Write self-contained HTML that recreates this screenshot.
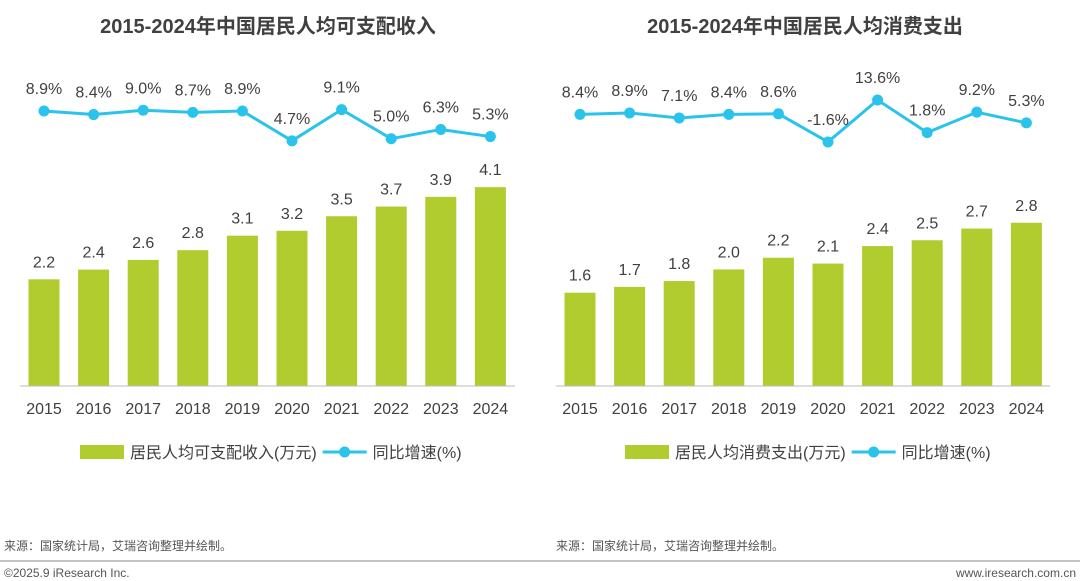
<!DOCTYPE html>
<html><head><meta charset="utf-8">
<style>
body{margin:0;width:1080px;height:581px;background:#fff;overflow:hidden;font-family:"Liberation Sans","Noto Sans CJK SC",sans-serif}
svg{position:absolute;left:0;top:0}
</style></head>
<body>
<svg id="s" width="1080" height="581">
<text x="268" y="33" text-anchor="middle" font-size="20" font-weight="bold" fill="#404040">2015-2024年中国居民人均可支配收入</text>
<text x="805" y="33" text-anchor="middle" font-size="20" font-weight="bold" fill="#404040">2015-2024年中国居民人均消费支出</text>
<text x="4" y="550" font-size="12" fill="#555">来源：国家统计局，艾瑞咨询整理并绘制。</text>
<text x="556" y="550" font-size="12" fill="#555">来源：国家统计局，艾瑞咨询整理并绘制。</text>
<line x1="0" y1="561" x2="1080" y2="561" stroke="#888" stroke-width="1"/>
<text x="4" y="577" font-size="12" fill="#555">©2025.9 iResearch Inc.</text>
<text x="1076" y="577" text-anchor="end" font-size="12" fill="#555">www.iresearch.com.cn</text>
</svg>
<script>
const years=["2015","2016","2017","2018","2019","2020","2021","2022","2023","2024"];
const incomeVals=[2.2,2.4,2.6,2.8,3.1,3.2,3.5,3.7,3.9,4.1];
const incomeGrowth=[8.9,8.4,9.0,8.7,8.9,4.7,9.1,5.0,6.3,5.3];
const spendVals=[1.6,1.7,1.8,2.0,2.2,2.1,2.4,2.5,2.7,2.8];
const spendGrowth=[8.4,8.9,7.1,8.4,8.6,-1.6,13.6,1.8,9.2,5.3];
const svg=document.getElementById('s');
const NS="http://www.w3.org/2000/svg";
function mk(t,a,txt){const e=document.createElementNS(NS,t);for(const k in a)e.setAttribute(k,a[k]);if(txt!==undefined)e.textContent=txt;svg.appendChild(e);return e;}
function chart(side,x0,axL,axR,bars,growth,barScale,gRef,gRefY,gScale,legendBar,legX){
  const step=49.6,base=386,bw=31;
  const xs=i=>x0+i*step;
  const yb=v=>base-v*barScale;
  const yg=v=>gRefY-(v-gRef)*gScale;
  bars.forEach((v,i)=>{
    const r=mk('rect',{x:xs(i)-bw/2,y:yb(v),width:bw,height:v*barScale,fill:'#b0cc2f'});
    
    
    const t=mk('text',{x:xs(i),y:yb(v)-12,'text-anchor':'middle','font-size':16,fill:'#404040'},v.toFixed(1));
    
    
    const yl=mk('text',{x:xs(i),y:414,'text-anchor':'middle','font-size':16,fill:'#404040'},years[i]);
    
    
  });
  const ax=mk('line',{x1:axL,y1:base,x2:axR,y2:base,stroke:'#bbb','stroke-width':1});
  
  
  const pl=mk('polyline',{points:growth.map((v,i)=>xs(i)+','+yg(v)).join(' '),fill:'none',stroke:'#2ac3ec','stroke-width':3});
  
  
  growth.forEach((v,i)=>{
    const c=mk('circle',{cx:xs(i),cy:yg(v),r:5.5,fill:'#2ac3ec'});
    
    
    const t=mk('text',{x:xs(i),y:yg(v)-17,'text-anchor':'middle','font-size':16,fill:'#404040'},v.toFixed(1)+'%');
    
    
  });
  const lr=mk('rect',{x:legX,y:445,width:44,height:14,fill:'#b0cc2f'});
  
  
  const lt=mk('text',{x:legX+50,y:458,'font-size':16,fill:'#404040'},legendBar);
  
  
  const lx=legX+50+lt.getComputedTextLength()+6;
  const ll=mk('line',{x1:lx,y1:452,x2:lx+44,y2:452,stroke:'#2ac3ec','stroke-width':3});
  
  
  const lc=mk('circle',{cx:lx+22,cy:452,r:5.5,fill:'#2ac3ec'});
  
  
  const lt2=mk('text',{x:lx+50,y:458,'font-size':16,fill:'#404040'},'同比增速(%)');
  
  
}
chart('income',44,20,515,incomeVals,incomeGrowth,48.5,8.9,111,7.1,'居民人均可支配收入(万元)',80);
chart('spend',580,556,1050,spendVals,spendGrowth,58.3,13.6,100,2.76,'居民人均消费支出(万元)',625);
</script>
</body></html>
